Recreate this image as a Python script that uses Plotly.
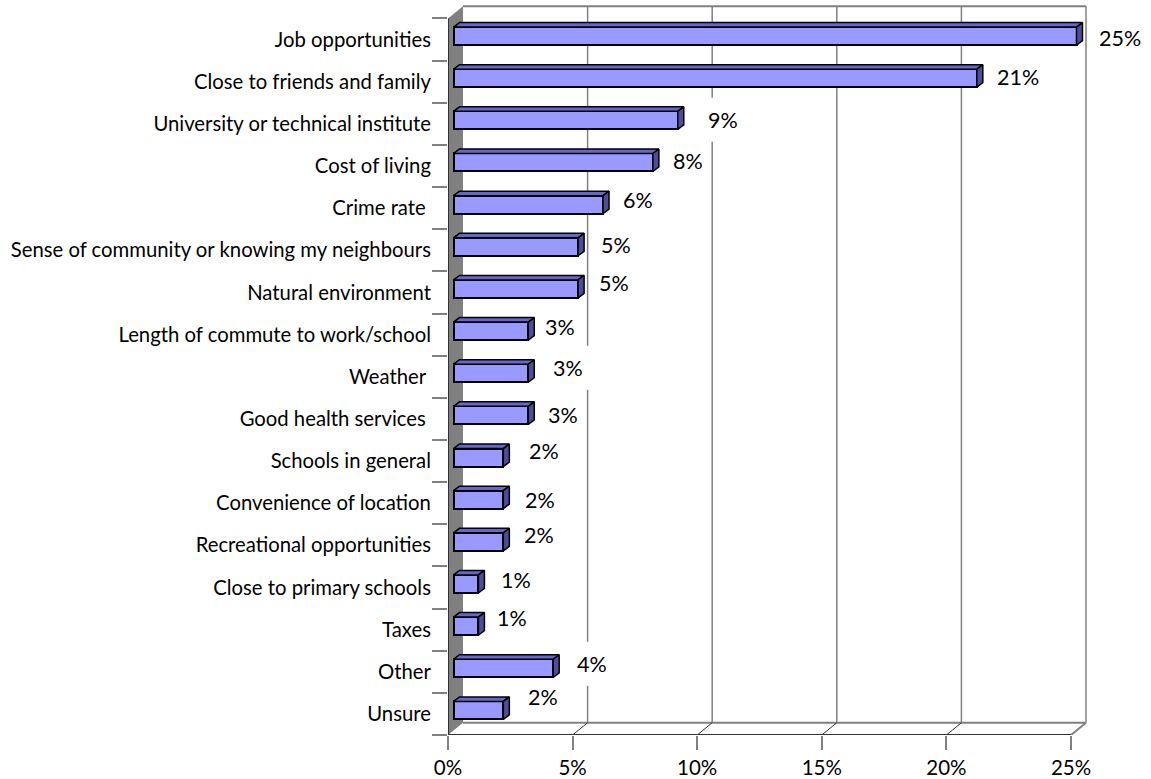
import plotly.graph_objects as go

categories = ["Job opportunities", "Close to friends and family", "University or technical institute",
              "Cost of living", "Crime rate\u00a0", "Sense of community or knowing my neighbours",
              "Natural environment", "Length of commute to work/school", "Weather\u00a0",
              "Good health services\u00a0", "Schools in general", "Convenience of location",
              "Recreational opportunities", "Close to primary schools", "Taxes", "Other", "Unsure"]
values = [25, 21, 9, 8, 6, 5, 5, 3, 3, 3, 2, 2, 2, 1, 1, 4, 2]
x_ticks = [0, 5, 10, 15, 20, 25]
x_labels = ["0%", "5%", "10%", "15%", "20%", "25%"]
label_dx = [15.5, 13, 23, 12.8, 13, 16, 14, 9.7, 18, 13, 19, 15, 13.4, 15.6, 11.6, 17, 17.4]
label_dy = [-2, -5, -4, -5, -8, -5.5, -9, -8, -9, -4, -10, -3, -10.5, -7, -12, -8, -17]

PX_X = 24.92
PX_Y = 42.15
WALL_X, WALL_Y = 15 / PX_X, 12.3 / PX_Y
BAR_X0 = 5.5 / PX_X
BAR_DX, BAR_DY = 6 / PX_X, 4.5 / PX_Y
BAR_H = 18 / PX_Y
BAR_SHIFT = 3.5 / PX_Y
FONT = "Lato"
n = len(values)
top, bottom = -0.5, n - 0.5
xmax = x_ticks[-1]
ys = list(range(n))
WALL = "#808080"
DARK = "#333333"
LABEL_SIZE = 21.5

fig = go.Figure()

def line(xs, ys_, color, width):
    fig.add_trace(go.Scatter(x=xs, y=ys_, mode="lines", line=dict(color=color, width=width), cliponaxis=False,
                             hoverinfo="skip", showlegend=False))

# back wall gridlines sit under the white label boxes
for t in x_ticks[1:]:
    fig.add_shape(type="line", xref="x", yref="y", layer="below", x0=t + WALL_X, x1=t + WALL_X,
                  y0=bottom - WALL_Y, y1=top - WALL_Y, line=dict(color=WALL, width=1.5))
for v, y, dx, dy in zip(values, ys, label_dx, label_dy):
    fig.add_shape(type="rect", xref="x", yref="y", layer="below", xsizemode="pixel", ysizemode="pixel",
                  xanchor=BAR_X0 + v + BAR_DX, yanchor=y,
                  x0=dx - 5, x1=dx + (32 if v < 10 else 44) + 5, y0=-dy - 22, y1=-dy + 22,
                  fillcolor="#FFFFFF", line=dict(width=0))

# side wall under the bars, floor and front axis
fig.add_shape(type="path", xref="x", yref="y", layer="below", fillcolor=WALL, line=dict(width=0),
              path=f"M 0 {top} L {WALL_X} {top - WALL_Y} L {WALL_X} {bottom - WALL_Y} L 0 {bottom} Z")
line([WALL_X, xmax + WALL_X], [top - WALL_Y, top - WALL_Y], WALL, 2)
line([WALL_X, xmax + WALL_X], [bottom - WALL_Y, bottom - WALL_Y], WALL, 2)
line([xmax, xmax + WALL_X], [bottom, bottom - WALL_Y], WALL, 2)
for t in x_ticks[1:-1]:
    line([t, t + WALL_X], [bottom, bottom - WALL_Y], DARK, 1)
line([0, 0, xmax], [top, bottom, bottom], DARK, 2)

# bars: front faces through the bar trace, depth faces as polygons
cy = [y - BAR_SHIFT for y in ys]
fig.add_trace(go.Bar(x=values, y=cy, base=BAR_X0, orientation="h", width=BAR_H,
                     marker=dict(color="#9999FF", line=dict(color="#000000", width=2)),
                     hoverinfo="skip", showlegend=False))
for v, c in zip(values, cy):
    x0, x1 = BAR_X0, BAR_X0 + v
    yt, yb = c - BAR_H / 2, c + BAR_H / 2
    fig.add_trace(go.Scatter(x=[x0, x0 + BAR_DX, x1 + BAR_DX, x1, x0], y=[yt, yt - BAR_DY, yt - BAR_DY, yt, yt],
                             mode="lines", fill="toself", fillcolor="#6666CC",
                             line=dict(color="#000000", width=1.5), hoverinfo="skip", showlegend=False))
    fig.add_trace(go.Scatter(x=[x1, x1 + BAR_DX, x1 + BAR_DX, x1, x1], y=[yt, yt - BAR_DY, yb - BAR_DY, yb, yt],
                             mode="lines", fill="toself", fillcolor="#4D4D99",
                             line=dict(color="#000000", width=1.5), hoverinfo="skip", showlegend=False))

# data labels
for v, y, dx, dy in zip(values, ys, label_dx, label_dy):
    fig.add_annotation(x=BAR_X0 + v + BAR_DX, y=y, text=f"{v}%", showarrow=False, xanchor="left",
                       xshift=dx, yshift=-dy, borderpad=0,
                       font=dict(family=FONT, size=LABEL_SIZE, color="#000000"))

boundaries = [i - 0.5 for i in range(n + 1)]
plot_right = 1095
plot_top = 5
plot_bottom = 735
fig.update_layout(
    width=1151, height=779, autosize=False, paper_bgcolor="#FFFFFF", plot_bgcolor="rgba(0,0,0,0)",
    margin=dict(l=448, r=1151 - plot_right, t=plot_top, b=779 - plot_bottom),
    bargap=0, showlegend=False,
    xaxis=dict(range=[0, (plot_right - 448) / PX_X], tickvals=x_ticks, ticktext=x_labels, ticks="outside",
               ticklen=14, tickwidth=1.5, tickcolor=WALL, showgrid=False, zeroline=False, showline=False,
               automargin=False, ticklabelstandoff=0,
               tickfont=dict(family=FONT, size=20.5, color="#000000")),
    yaxis=dict(range=[bottom, bottom - (plot_bottom - plot_top) / PX_Y], tickvals=ys, ticktext=categories, ticks="outside",
               ticklen=15, tickcolor="rgba(0,0,0,0)", showgrid=False, zeroline=False, showline=False,
               automargin=False, ticklabelstandoff=-3,
               minor=dict(tickvals=boundaries, ticks="outside", ticklen=15, tickwidth=1.5, tickcolor=WALL, showgrid=False),
               tickfont=dict(family=FONT, size=20.3, color="#000000")),
)
fig.write_html("out.html", config=dict(displayModeBar=False), post_script="document.body.style.margin='0';")
